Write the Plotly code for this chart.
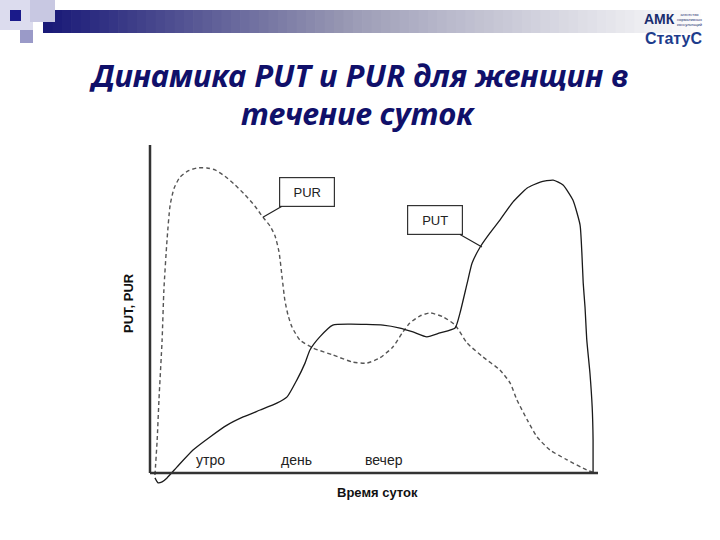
import plotly.graph_objects as go

# ---- data (arbitrary units: time 0..100, level 0..100) ----
pur_x = [1.1, 1.6, 2.0, 2.7, 3.1, 3.8, 4.5, 5.4, 6.7, 8.5, 10.5, 12.7, 14.5, 16.7, 19.0, 21.2,
         23.4, 25.2, 26.8, 27.9, 28.8, 29.5, 30.1, 30.8, 31.7, 33.5, 36.4, 40.8, 45.3, 48.4,
         51.3, 54.2, 56.3, 58.0, 60.3, 62.5, 65.4, 68.1, 70.8, 74.3, 78.1, 80.4, 81.9, 84.2,
         86.4, 89.3, 93.1, 97.5, 99.3]
pur_y = [-0.6, 10.1, 22.3, 40.5, 55.8, 71.0, 81.7, 86.9, 90.2, 92.1, 93.0, 93.0, 92.4, 90.5,
         87.8, 84.8, 81.4, 78.0, 75.3, 72.3, 67.4, 59.5, 52.7, 48.2, 44.5, 40.5, 38.1, 36.0,
         33.8, 33.5, 35.1, 38.4, 42.7, 45.7, 47.9, 48.8, 47.6, 45.1, 39.6, 35.4, 31.4, 27.4,
         22.3, 16.2, 11.0, 7.0, 4.0, 0.9, 0.0]

put_x = [1.1, 1.8, 2.7, 3.8, 6.0, 9.6, 13.4, 17.2, 20.8, 24.6, 28.3, 30.6, 32.8, 34.6, 35.7,
         37.9, 40.8, 44.6, 52.0, 55.8, 58.7, 61.8, 64.7, 68.1, 69.2, 70.8, 71.9, 73.7, 75.9,
         78.1, 81.0, 84.2, 87.1, 90.0, 92.2, 94.4, 96.0, 96.4, 96.7, 97.1, 97.5, 98.2, 98.7,
         98.9, 98.9]
put_y = [-1.5, -3.0, -2.7, -1.5, 1.8, 7.0, 11.0, 14.6, 17.1, 19.2, 21.3, 23.2, 28.4, 33.5,
         37.5, 41.5, 45.1, 45.4, 45.1, 44.2, 43.0, 41.5, 42.7, 44.2, 48.8, 57.9, 64.0, 68.9,
         73.2, 77.1, 82.6, 86.9, 88.7, 89.3, 87.8, 83.2, 75.6, 67.1, 57.9, 50.6, 40.5, 30.5,
         20.1, 10.1, 0.0]

period_labels = ["утро", "день", "вечер"]
period_x = [13.4, 32.6, 52.2]
period_y = [4.0, 4.0, 4.0]

callout_text = ["PUR", "PUT"]
callout_x = [25.2, 74.1]      # point on curve
callout_y = [78.0, 68.9]

title_lines = ["Динамика PUT и PUR для женщин в", "течение суток"]
x_title = "Время суток"
y_title = "PUT, PUR"

fig = go.Figure()
fig.add_trace(go.Scatter(x=pur_x, y=pur_y, mode="lines", name="PUR",
                         line=dict(color="#555555", width=1.4, dash="4px,3px",
                                   shape="spline", smoothing=0.6),
                         hoverinfo="skip"))
fig.add_trace(go.Scatter(x=put_x, y=put_y, mode="lines", name="PUT",
                         line=dict(color="#1a1a1a", width=1.3, shape="spline", smoothing=0.5),
                         hoverinfo="skip"))

shapes = []
# axes lines
shapes.append(dict(type="line", xref="x", yref="y", x0=0, x1=0, y0=0, y1=100,
                   line=dict(color="#333333", width=2.5)))
shapes.append(dict(type="line", xref="x", yref="y", x0=0, x1=100, y0=0, y1=0,
                   line=dict(color="#333333", width=2.5)))

# header gradient bar
n = 70
x_start, x_end = 43 / 720, 700 / 720
c0 = (26, 26, 120)
c_mid = (150, 150, 178)
c1 = (252, 252, 252)
for i in range(n):
    t = i / (n - 1)
    if t < 0.45:
        s = (t / 0.45) ** 1.0
        col = [int(c0[k] + (c_mid[k] - c0[k]) * s) for k in range(3)]
    else:
        s = ((t - 0.45) / 0.55) ** 0.9
        col = [int(c_mid[k] + (c1[k] - c_mid[k]) * s) for k in range(3)]
    shapes.append(dict(type="rect", xref="paper", yref="paper",
                       x0=x_start + (x_end - x_start) * i / n,
                       x1=x_start + (x_end - x_start) * (i + 1) / n + 0.001,
                       y0=1 - 33 / 540, y1=1 - 10 / 540,
                       fillcolor=f"rgb({col[0]},{col[1]},{col[2]})", line=dict(width=0),
                       layer="below"))
# decorative squares
for (x0, y0, x1, y1, c) in [(0, 0, 33, 30, "#dcdcee"), (30, 0, 55, 22, "#c8c8e2"),
                            (20, 30, 33, 43, "#9a9ac8"), (10, 10, 21, 21, "#1a1a8a")]:
    shapes.append(dict(type="rect", xref="paper", yref="paper",
                       x0=x0 / 720, x1=x1 / 720, y0=1 - y1 / 540, y1=1 - y0 / 540,
                       fillcolor=c, line=dict(width=0), layer="below"))

annotations = []
# title lines
for line, yc in zip(title_lines, [75, 113]):
    annotations.append(dict(x=358 / 720, y=1 - yc / 540, xref="paper", yref="paper",
                            text=f"<b><i>{line}</i></b>", showarrow=False,
                            xanchor="center", yanchor="middle",
                            font=dict(family="Noto Sans", size=31, color="#10106a")))

for lab, xx, yy in zip(period_labels, period_x, period_y):
    annotations.append(dict(x=xx, y=yy, xref="x", yref="y", text=lab, showarrow=False,
                            xanchor="center", yanchor="middle",
                            font=dict(family="Liberation Sans", size=14, color="#222222")))

offsets = [(44, -25), (-47, -27)]
for txt, xx, yy, (ax, ay) in zip(callout_text, callout_x, callout_y, offsets):
    annotations.append(dict(x=xx, y=yy, xref="x", yref="y", text=txt, showarrow=True,
                            arrowhead=0, arrowwidth=1.2, arrowcolor="#222222", ax=ax, ay=ay,
                            width=54, height=28, bordercolor="#333333", borderwidth=1.2,
                            borderpad=0, bgcolor="white",
                            font=dict(family="Liberation Sans", size=13, color="#222222")))

annotations.append(dict(x=377 / 720, y=1 - 492 / 540, xref="paper", yref="paper",
                        text=f"<b>{x_title}</b>", showarrow=False,
                        xanchor="center", yanchor="middle",
                        font=dict(family="Liberation Sans", size=13, color="#111111")))
annotations.append(dict(x=128 / 720, y=1 - 303 / 540, xref="paper", yref="paper",
                        text=f"<b>{y_title}</b>", showarrow=False, textangle=-90,
                        xanchor="center", yanchor="middle",
                        font=dict(family="Liberation Sans", size=13, color="#111111")))
# logo
annotations.append(dict(x=659 / 720, y=1 - 19 / 540, xref="paper", yref="paper",
                        text="<b>АМК</b>", showarrow=False, xanchor="center", yanchor="middle",
                        font=dict(family="Liberation Sans", size=14, color="#1a2d6e")))
annotations.append(dict(x=689 / 720, y=1 - 19 / 540, xref="paper", yref="paper",
                        text="агентство<br>нормативных<br>консультаций", showarrow=False,
                        xanchor="center", yanchor="middle",
                        font=dict(family="Liberation Sans", size=4, color="#1a2d6e")))
annotations.append(dict(x=673 / 720, y=1 - 39 / 540, xref="paper", yref="paper",
                        text="<b>СтатуС</b>", showarrow=False, xanchor="center", yanchor="middle",
                        font=dict(family="Liberation Sans", size=16, color="#1d3c8c")))

fig.update_layout(
    width=720, height=540,
    margin=dict(l=0, r=0, t=0, b=0),
    paper_bgcolor="white", plot_bgcolor="white",
    showlegend=False,
    xaxis=dict(domain=[140 / 720, 600 / 720], range=[-2.232, 100.446], visible=False),
    yaxis=dict(domain=[1 - 490 / 540, 1 - 140 / 540], range=[-5.183, 101.524], visible=False),
    shapes=shapes, annotations=annotations,
)

fig.write_html("out.html", config={"displayModeBar": False},
               post_script="document.body.style.margin='0';")
